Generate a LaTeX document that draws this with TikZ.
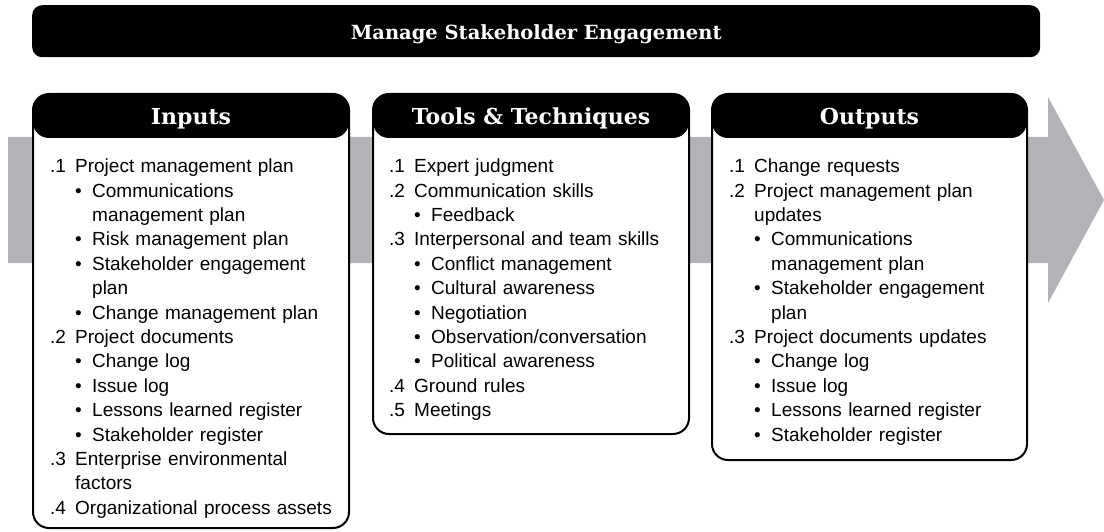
\documentclass[tikz,border=0pt]{standalone}
\usepackage{fontspec}
\setmainfont{Liberation Sans}
\newfontfamily\slabfont{DejaVu Serif}
\usepackage{xcolor}
\usepackage{tikz}
\usetikzlibrary{positioning}
\definecolor{flowgrey}{RGB}{177,179,182}

% list lines: number, bullet, and wrapped continuations
\newcommand{\numitem}[2]{\makebox[25pt][l]{#1}#2}
\newcommand{\bulitem}[1]{\hspace*{25pt}\makebox[17pt][l]{\textbullet}#1}
\newcommand{\bulwrap}[1]{\hspace*{42pt}#1}
\newcommand{\numwrap}[1]{\hspace*{25pt}#1}

\begin{document}
\begin{tikzpicture}[
    x=1pt, y=-1pt,
    proc box/.style={rectangle, rounded corners=16pt, line width=2pt,
                     draw=black, fill=white, anchor=north west,
                     path picture={\fill[black] (path picture bounding box.north west)
                       rectangle ([yshift=-44pt]path picture bounding box.north east);}},
    head text/.style={anchor=base, text=white, inner sep=0pt,
                      font=\slabfont\bfseries\fontsize{22pt}{26pt}\selectfont},
    list text/.style={anchor=north west, inner sep=0pt, align=left, text width=290pt,
                      font=\fontsize{19pt}{24.4pt}\selectfont},
  ]
  \useasboundingbox (0,0) rectangle (1104,532);

  % ============ FLOW ARROW (background) ============
  \fill[flowgrey] (8,137) -- (1048,137) -- (1048,97) -- (1104,200)
    -- (1048,303) -- (1048,263) -- (8,263) -- cycle;

  % ============ TITLE STRIP ============
  \node[rectangle, rounded corners=10pt, fill=black, anchor=north west,
        minimum width=1008pt, minimum height=52pt] (title) at (32,5) {};
  \node[head text, font=\slabfont\bfseries\fontsize{19.5pt}{24pt}\selectfont]
    (titletext) at ([yshift=-35pt]title.north) {Manage Stakeholder Engagement};

  % ============ INPUTS ============
  \node[proc box, minimum width=316pt, minimum height=434pt] (inputs) at (32,93) {};
  \node[head text] (inputshead) at ([yshift=-32pt]inputs.north) {Inputs};
  \node[list text] (inputslist) at ([xshift=18pt,yshift=-63.5pt]inputs.north west) {%
    \rule{0pt}{16pt}\numitem{.1}{Project management plan}\\
    \bulitem{Communications}\\
    \bulwrap{management plan}\\
    \bulitem{Risk management plan}\\
    \bulitem{Stakeholder engagement}\\
    \bulwrap{plan}\\
    \bulitem{Change management plan}\\
    \numitem{.2}{Project documents}\\
    \bulitem{Change log}\\
    \bulitem{Issue log}\\
    \bulitem{Lessons learned register}\\
    \bulitem{Stakeholder register}\\
    \numitem{.3}{Enterprise environmental}\\
    \numwrap{factors}\\
    \numitem{.4}{Organizational process assets}
  };

  % ============ TOOLS & TECHNIQUES ============
  \node[proc box, minimum width=316pt, minimum height=340pt] (tools) at (372,93) {};
  \node[head text] (toolshead) at ([yshift=-32pt]tools.north) {Tools \& Techniques};
  \node[list text] (toolslist) at ([xshift=17pt,yshift=-63.5pt]tools.north west) {%
    \rule{0pt}{16pt}\numitem{.1}{Expert judgment}\\
    \numitem{.2}{Communication skills}\\
    \bulitem{Feedback}\\
    \numitem{.3}{Interpersonal and team skills}\\
    \bulitem{Conflict management}\\
    \bulitem{Cultural awareness}\\
    \bulitem{Negotiation}\\
    \bulitem{Observation/conversation}\\
    \bulitem{Political awareness}\\
    \numitem{.4}{Ground rules}\\
    \numitem{.5}{Meetings}
  };

  % ============ OUTPUTS ============
  \node[proc box, minimum width=315pt, minimum height=366pt] (outputs) at (711,93) {};
  \node[head text] (outputshead) at ([yshift=-32pt]outputs.north) {Outputs};
  \node[list text] (outputslist) at ([xshift=18pt,yshift=-63.5pt]outputs.north west) {%
    \rule{0pt}{16pt}\numitem{.1}{Change requests}\\
    \numitem{.2}{Project management plan}\\
    \numwrap{updates}\\
    \bulitem{Communications}\\
    \bulwrap{management plan}\\
    \bulitem{Stakeholder engagement}\\
    \bulwrap{plan}\\
    \numitem{.3}{Project documents updates}\\
    \bulitem{Change log}\\
    \bulitem{Issue log}\\
    \bulitem{Lessons learned register}\\
    \bulitem{Stakeholder register}
  };

\end{tikzpicture}
\end{document}
